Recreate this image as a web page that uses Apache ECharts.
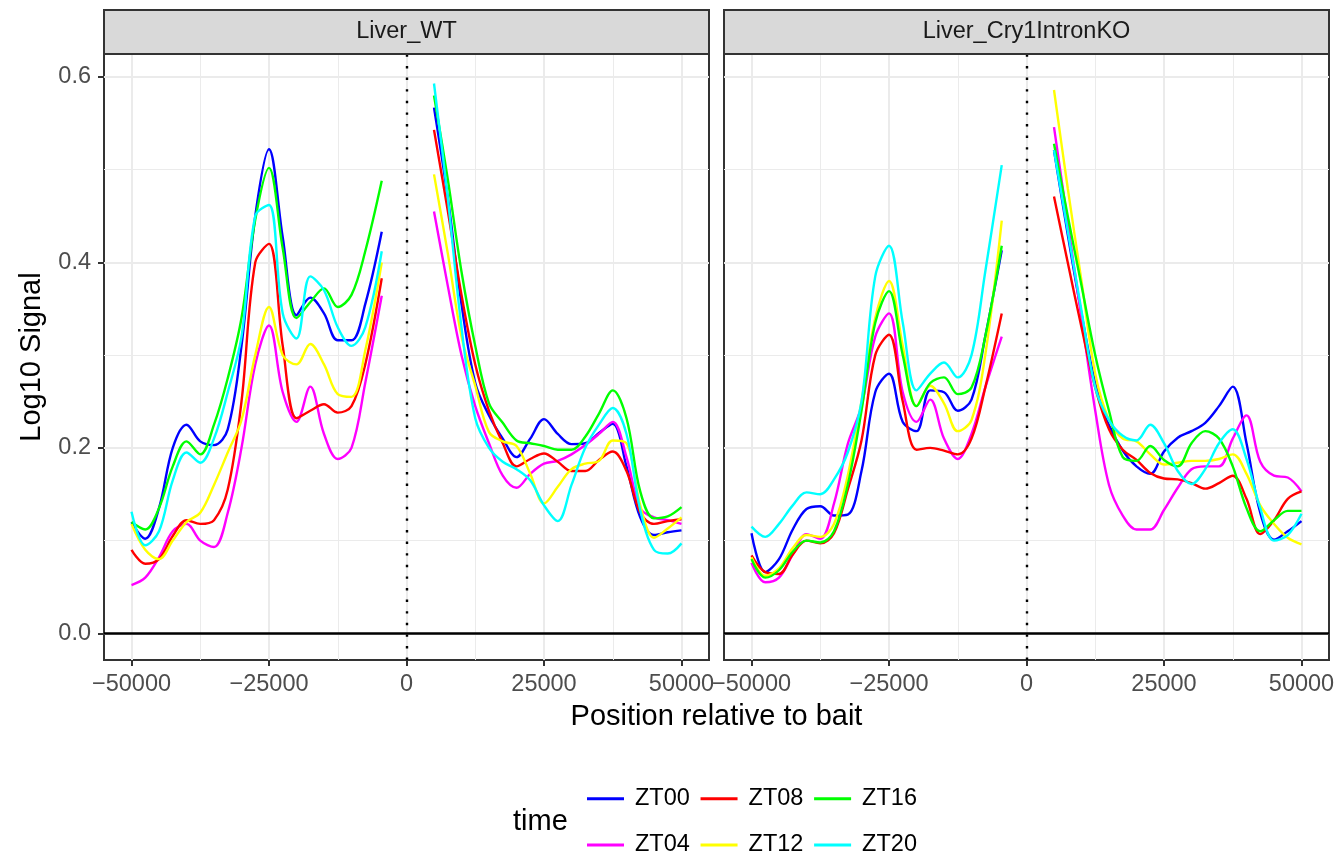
<!DOCTYPE html>
<html><head><meta charset="utf-8">
<script src="https://cdn.jsdelivr.net/npm/echarts@6/dist/echarts.min.js"></script>
<style>html,body{margin:0;padding:0;background:#fff}#c{width:1339px;height:855px}</style>
</head><body><div id="c"></div><script>
const panels = ['Liver_WT', 'Liver_Cry1IntronKO'];
const times = ['ZT00', 'ZT04', 'ZT08', 'ZT12', 'ZT16', 'ZT20'];
const timeColors = ['#0000ff', '#ff00ff', '#ff0000', '#ffff00', '#00ff00', '#00ffff'];
const legendOrder = ['ZT00', 'ZT08', 'ZT16', 'ZT04', 'ZT12', 'ZT20'];
const xLeft = [-50000, -47500, -45000, -42500, -40000, -37500, -35000, -32500, -30000, -27500, -25000, -22500, -20000, -17500, -15000, -12500, -10000, -7500, -4500];
const xRight = [5000, 7500, 10000, 12500, 15000, 17500, 20000, 22500, 25000, 27500, 30000, 32500, 35000, 37500, 40000, 42500, 45000, 47500, 50000];
const xTicks = [-50000, -25000, 0, 25000, 50000];
const xMinor = [-37500, -12500, 12500, 37500];
const yTicks = [0, 0.2, 0.4, 0.6];
const yMinor = [0.1, 0.3, 0.5];

// Liver_WT, upstream side
const wtL_ZT00 = [0.120, 0.102, 0.135, 0.200, 0.225, 0.207, 0.203, 0.220, 0.310, 0.450, 0.522, 0.427, 0.343, 0.362, 0.345, 0.316, 0.316, 0.355, 0.433];
const wtL_ZT04 = [0.052, 0.060, 0.082, 0.110, 0.118, 0.100, 0.093, 0.130, 0.200, 0.290, 0.332, 0.260, 0.228, 0.266, 0.215, 0.188, 0.200, 0.270, 0.364];
const wtL_ZT08 = [0.090, 0.075, 0.080, 0.105, 0.122, 0.118, 0.122, 0.155, 0.250, 0.400, 0.420, 0.310, 0.232, 0.240, 0.247, 0.238, 0.245, 0.290, 0.383];
const wtL_ZT12 = [0.118, 0.090, 0.080, 0.100, 0.120, 0.130, 0.160, 0.195, 0.230, 0.300, 0.352, 0.300, 0.290, 0.312, 0.290, 0.258, 0.255, 0.305, 0.400];
const wtL_ZT16 = [0.120, 0.112, 0.135, 0.180, 0.207, 0.193, 0.225, 0.275, 0.340, 0.446, 0.502, 0.415, 0.340, 0.357, 0.372, 0.352, 0.365, 0.412, 0.488];
const wtL_ZT20 = [0.131, 0.095, 0.110, 0.165, 0.195, 0.184, 0.210, 0.260, 0.320, 0.450, 0.462, 0.345, 0.318, 0.385, 0.370, 0.330, 0.310, 0.330, 0.412];
// Liver_WT, downstream side
const wtR_ZT00 = [0.567, 0.470, 0.355, 0.270, 0.235, 0.210, 0.190, 0.210, 0.231, 0.215, 0.204, 0.205, 0.216, 0.226, 0.180, 0.125, 0.106, 0.109, 0.111];
const wtR_ZT04 = [0.455, 0.375, 0.300, 0.245, 0.205, 0.170, 0.157, 0.172, 0.183, 0.186, 0.193, 0.203, 0.215, 0.228, 0.190, 0.135, 0.125, 0.122, 0.118];
const wtR_ZT08 = [0.543, 0.456, 0.365, 0.290, 0.240, 0.205, 0.180, 0.188, 0.194, 0.185, 0.175, 0.175, 0.187, 0.196, 0.175, 0.130, 0.118, 0.121, 0.123];
const wtR_ZT12 = [0.495, 0.410, 0.320, 0.267, 0.217, 0.207, 0.202, 0.172, 0.140, 0.158, 0.177, 0.183, 0.186, 0.208, 0.205, 0.138, 0.103, 0.113, 0.125];
const wtR_ZT16 = [0.580, 0.490, 0.390, 0.310, 0.248, 0.227, 0.208, 0.205, 0.202, 0.198, 0.198, 0.212, 0.237, 0.262, 0.232, 0.153, 0.124, 0.126, 0.136];
const wtR_ZT20 = [0.593, 0.470, 0.330, 0.232, 0.200, 0.185, 0.177, 0.165, 0.138, 0.121, 0.160, 0.200, 0.225, 0.243, 0.215, 0.133, 0.090, 0.086, 0.097];
// Liver_Cry1IntronKO, upstream side
const koL_ZT00 = [0.108, 0.066, 0.080, 0.112, 0.134, 0.137, 0.127, 0.128, 0.175, 0.260, 0.280, 0.228, 0.218, 0.262, 0.260, 0.240, 0.252, 0.320, 0.413];
const koL_ZT04 = [0.076, 0.055, 0.060, 0.085, 0.107, 0.102, 0.140, 0.204, 0.245, 0.320, 0.345, 0.260, 0.228, 0.252, 0.210, 0.188, 0.215, 0.265, 0.320];
const koL_ZT08 = [0.084, 0.066, 0.064, 0.085, 0.100, 0.097, 0.108, 0.155, 0.208, 0.300, 0.322, 0.250, 0.198, 0.200, 0.197, 0.193, 0.210, 0.265, 0.345];
const koL_ZT12 = [0.082, 0.062, 0.070, 0.092, 0.106, 0.104, 0.118, 0.170, 0.250, 0.340, 0.380, 0.310, 0.245, 0.267, 0.248, 0.218, 0.230, 0.300, 0.445];
const koL_ZT16 = [0.080, 0.060, 0.068, 0.088, 0.100, 0.098, 0.110, 0.160, 0.240, 0.335, 0.369, 0.300, 0.245, 0.270, 0.276, 0.258, 0.265, 0.320, 0.418];
const koL_ZT20 = [0.115, 0.104, 0.118, 0.138, 0.152, 0.150, 0.166, 0.195, 0.250, 0.385, 0.418, 0.335, 0.262, 0.280, 0.292, 0.276, 0.300, 0.390, 0.505];
// Liver_Cry1IntronKO, downstream side
const koR_ZT00 = [0.521, 0.430, 0.345, 0.270, 0.225, 0.197, 0.180, 0.172, 0.196, 0.211, 0.218, 0.227, 0.245, 0.266, 0.205, 0.130, 0.101, 0.110, 0.121];
const koR_ZT04 = [0.546, 0.443, 0.340, 0.240, 0.160, 0.127, 0.112, 0.112, 0.133, 0.157, 0.177, 0.180, 0.180, 0.210, 0.235, 0.185, 0.170, 0.168, 0.153];
const koR_ZT08 = [0.471, 0.400, 0.330, 0.265, 0.220, 0.198, 0.187, 0.173, 0.167, 0.166, 0.162, 0.156, 0.162, 0.170, 0.145, 0.107, 0.122, 0.145, 0.153];
const koR_ZT12 = [0.586, 0.480, 0.380, 0.280, 0.230, 0.210, 0.207, 0.193, 0.182, 0.184, 0.186, 0.186, 0.188, 0.193, 0.172, 0.138, 0.118, 0.103, 0.096];
const koR_ZT16 = [0.528, 0.450, 0.375, 0.300, 0.240, 0.190, 0.186, 0.202, 0.187, 0.180, 0.205, 0.218, 0.210, 0.180, 0.135, 0.110, 0.122, 0.132, 0.132];
const koR_ZT20 = [0.521, 0.434, 0.348, 0.265, 0.230, 0.213, 0.208, 0.225, 0.205, 0.175, 0.161, 0.177, 0.205, 0.220, 0.188, 0.135, 0.100, 0.106, 0.129];

const leftSets = [
  [wtL_ZT00, wtL_ZT04, wtL_ZT08, wtL_ZT12, wtL_ZT16, wtL_ZT20],
  [koL_ZT00, koL_ZT04, koL_ZT08, koL_ZT12, koL_ZT16, koL_ZT20]
];
const rightSets = [
  [wtR_ZT00, wtR_ZT04, wtR_ZT08, wtR_ZT12, wtR_ZT16, wtR_ZT20],
  [koR_ZT00, koR_ZT04, koR_ZT08, koR_ZT12, koR_ZT16, koR_ZT20]
];

const FONT = '"Liberation Sans", Arial, Helvetica, sans-serif';
const gridPos = [{ left: 104, top: 54, width: 605, height: 606 }, { left: 724, top: 54, width: 605, height: 606 }];
const xMin = -55000, xMax = 55000, yMin = -0.0288, yMax = 0.6248;
const fmtX = v => (v < 0 ? '\u2212' + Math.abs(v) : String(v));

const grid = gridPos.map(g => Object.assign({ show: true, borderColor: '#333333', borderWidth: 2, backgroundColor: '#ffffff', containLabel: false }, g));
const xAxis = [], yAxis = [], series = [];
panels.forEach((p, pi) => {
  xAxis.push({
    type: 'value', gridIndex: pi, min: xMin, max: xMax, position: 'bottom',
    axisLine: { show: false, onZero: false },
    axisTick: { show: true, length: 6, lineStyle: { color: '#333333', width: 2 }, customValues: xTicks },
    axisLabel: { show: true, customValues: xTicks, formatter: fmtX, fontSize: 23.5, color: '#4d4d4d', fontFamily: FONT, margin: 13 },
    splitLine: { show: true, lineStyle: { color: '#ebebeb', width: 2 } }
  });
  xAxis.push({
    type: 'value', gridIndex: pi, min: xMin, max: xMax, position: 'top',
    axisLine: { show: false, onZero: false },
    axisTick: { show: false, customValues: xMinor },
    axisLabel: { show: false, customValues: xMinor },
    splitLine: { show: true, lineStyle: { color: '#ebebeb', width: 1 } }
  });
  yAxis.push({
    type: 'value', gridIndex: pi, min: yMin, max: yMax, position: 'left',
    axisLine: { show: false, onZero: false },
    axisTick: { show: pi === 0, length: 6, lineStyle: { color: '#333333', width: 2 }, customValues: yTicks },
    axisLabel: { show: pi === 0, customValues: yTicks, formatter: v => v.toFixed(1), fontSize: 23.5, color: '#4d4d4d', fontFamily: FONT, margin: 13 },
    splitLine: { show: true, lineStyle: { color: '#ebebeb', width: 2 } }
  });
  yAxis.push({
    type: 'value', gridIndex: pi, min: yMin, max: yMax, position: 'right',
    axisLine: { show: false, onZero: false },
    axisTick: { show: false, customValues: yMinor },
    axisLabel: { show: false, customValues: yMinor },
    splitLine: { show: true, lineStyle: { color: '#ebebeb', width: 1 } }
  });
  times.forEach((t, ti) => {
    const L = leftSets[pi][ti], R = rightSets[pi][ti];
    const data = xLeft.map((x, i) => [x, L[i]]).concat([[0, '-']]).concat(xRight.map((x, i) => [x, R[i]]));
    const s = {
      name: t, type: 'line', xAxisIndex: pi * 2, yAxisIndex: pi * 2, data: data,
      showSymbol: false, symbol: 'none', smooth: 0.35, connectNulls: false,
      lineStyle: { color: timeColors[ti], width: 2.4 }, itemStyle: { color: timeColors[ti] },
      z: 3, silent: true
    };
    if (ti === 0) {
      s.markLine = {
        silent: true, symbol: ['none', 'none'], label: { show: false }, animation: false,
        data: [
          { yAxis: 0, lineStyle: { color: '#000000', width: 2.5, type: 'solid' } },
          { xAxis: 0, lineStyle: { color: '#000000', width: 2.4, type: [2.4, 9.2], cap: 'butt' } }
        ]
      };
    }
    series.push(s);
  });
});

const graphic = [];
panels.forEach((p, pi) => {
  const g = gridPos[pi];
  graphic.push({ type: 'rect', shape: { x: g.left, y: 10, width: g.width, height: 44 }, style: { fill: '#d9d9d9', stroke: '#333333', lineWidth: 2 }, z: 10 });
  graphic.push({ type: 'text', x: g.left + g.width / 2, y: 32, style: { text: p, align: 'center', verticalAlign: 'middle', fontSize: 23.5, fill: '#1a1a1a', fontFamily: FONT }, z: 11 });
});
graphic.push({ type: 'text', x: 716.5, y: 717, style: { text: 'Position relative to bait', align: 'center', verticalAlign: 'middle', fontSize: 29, fill: '#000000', fontFamily: FONT } });
graphic.push({ type: 'text', x: 32, y: 357, rotation: Math.PI / 2, style: { text: 'Log10 Signal', align: 'center', verticalAlign: 'middle', fontSize: 29, fill: '#000000', fontFamily: FONT } });
graphic.push({ type: 'text', x: 513, y: 822, style: { text: 'time', align: 'left', verticalAlign: 'middle', fontSize: 29, fill: '#000000', fontFamily: FONT } });

const chart = echarts.init(document.getElementById('c'), null, { renderer: 'canvas' });
chart.setOption({
  animation: false,
  backgroundColor: '#ffffff',
  grid: grid, xAxis: xAxis, yAxis: yAxis, series: series, graphic: graphic,
  legend: {
    data: legendOrder, left: 587, top: 781, width: 345, orient: 'horizontal', padding: 0,
    icon: 'rect', itemWidth: 37, itemHeight: 3, itemGap: 10.7, selectedMode: false,
    textStyle: { fontSize: 23.5, color: '#000000', fontFamily: FONT, lineHeight: 35.5, padding: [0, 0, 0, 6] }
  }
});
</script></body></html>
